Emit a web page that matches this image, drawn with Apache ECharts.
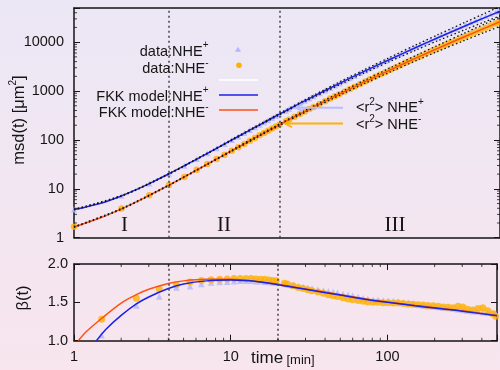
<!DOCTYPE html>
<html><head><meta charset="utf-8">
<script src="https://cdn.jsdelivr.net/npm/echarts@6/dist/echarts.min.js"></script>
<style>html,body{margin:0;padding:0;}#c{width:500px;height:370px;background:linear-gradient(#ebe7f5,#f8e5ee);}</style>
</head><body><div id="c"></div>
<script>
// ---- data ----
const tData = [1,2,3,4,5,6,7,8,9,10,11,12,13,14,15,16,17,18,19,20,22,23,25,27,29,31,33,36,39,42,45,48,52,56,60,65,70,75,81,87,94,101,109,117,126,136,146,157,169,182,196,211,227,244,262,282,303,326,351,378,406,437,470,490];
const msdPlus = [3.76,7.2,12.8,20.3,29.6,40.6,53.2,67.4,83,100,118,138,159,181,204,229,254,281,308,336,396,428,492,560,631,705,781,902,1026,1156,1292,1429,1622,1824,2032,2340,2630,2920,3290,3650,4110,4670,5220,5810,6490,7260,8050,8950,9950,11090,12310,13910,15420,17070,18870,20870,23020,25470,28240,31230,34380,38000,41890,44260];
const msdMinus = [1.68,3.95,7.4,12.0,17.5,24.5,32,40.5,50,60,71,83,96,110,124,139,155,171,188,205,240,259,298,339,382,427,473,546,621,700,782,865,982,1104,1230,1390,1560,1734,1950,2168,2438,2716,3041,3381,3776,4227,4688,5212,5794,6457,7178,7980,8851,9795,10840,11990,13240,14660,16260,17990,19820,21930,24210,25590];

const tModel = [1,1.5,2,2.5,3,4,5,6,7,8,10,12,15,20,30,50,70,100,150,200,300,400,500];
const modelMsdPlus = [3.76,5.15,7.18,9.73,12.8,20.3,29.6,40.6,53.2,67.4,100,138,204,336,668,1528,2578,4426,8054,12160,21430,31770,42950];
const modelMsdMinus = [1.65,2.62,3.89,5.47,7.35,11.9,17.6,24.3,31.9,40.5,60.3,83.4,124,204,405,925,1560,2680,4875,7380,13030,19360,26300];

const tBand = [1,2,4,7,10,15,20,30,50,70,100,150,200,300,400,500];
const bandPlusUpper = [3.84,7.32,20.7,54.3,103,210,349,701,1635,2784,4869,9101,13980,25500,38760,53690];
const bandPlusLower = [3.69,7.04,19.9,52.2,97.1,198,323,636,1428,2387,4024,7127,10570,18010,26040,34360];
const bandMinusUpper = [1.68,3.97,12.1,32.5,62.1,128,212,425,990,1685,2948,5509,8487,15510,23620,32880];
const bandMinusLower = [1.62,3.81,11.7,31.3,58.5,120,196,386,864,1444,2436,4314,6417,10950,15870,21040];

const tBeta = [1.5,2.5,3.5,4.5,5.5,6.5,7.5,8.5,9.5,10.5,11.5,12.5,13.5,14.5,15.5,16.5,17.5,18.5,19.5,22,23,25,27,29,31,33,36,39,42,45,48,52,56,60,65,70,75,81,87,94,101,109,117,126,136,146,157,169,182,196,211,227,244,262,282,303,326,351,378,406,437,470,490];
const betaPlus = [1.07,1.46,1.575,1.695,1.71,1.74,1.76,1.765,1.77,1.775,1.78,1.78,1.78,1.775,1.775,1.77,1.765,1.76,1.755,1.74,1.735,1.72,1.71,1.70,1.69,1.68,1.665,1.655,1.645,1.635,1.625,1.61,1.60,1.585,1.57,1.555,1.545,1.535,1.53,1.525,1.52,1.515,1.51,1.50,1.49,1.48,1.47,1.46,1.45,1.445,1.44,1.43,1.425,1.42,1.41,1.40,1.39,1.385,1.38,1.37,1.365,1.36,1.355];
const betaMinus = [1.28,1.555,1.675,1.73,1.765,1.785,1.795,1.80,1.805,1.81,1.81,1.81,1.81,1.805,1.80,1.80,1.79,1.785,1.78,1.75,1.74,1.715,1.695,1.68,1.665,1.65,1.635,1.62,1.60,1.585,1.575,1.56,1.545,1.535,1.525,1.515,1.505,1.50,1.50,1.495,1.495,1.49,1.49,1.485,1.48,1.475,1.47,1.465,1.46,1.455,1.45,1.44,1.435,1.43,1.45,1.44,1.41,1.40,1.42,1.43,1.39,1.35,1.32];

const tModelBetaMinus = [1.065,1.2,1.5,2,2.5,3,4,5,7,10,15,20,30,50,70,100,150,200,300,500];
const modelBetaMinus = [1.0,1.12,1.29,1.49,1.60,1.67,1.745,1.78,1.80,1.80,1.77,1.735,1.675,1.60,1.55,1.505,1.46,1.43,1.39,1.33];
const tModelBetaPlus = [1.39,1.6,2,2.5,3,4,5,7,10,15,20,30,50,70,100,150,200,300,500];
const modelBetaPlus = [1.0,1.15,1.33,1.48,1.57,1.68,1.74,1.78,1.79,1.77,1.73,1.67,1.595,1.545,1.50,1.455,1.425,1.385,1.325];

const regionBounds = [4, 20];
const regionLabels = ['I','II','III'];
const minorMsdTicks = [2,3,4,5,6,7,8,9,20,30,40,50,60,70,80,90,200,300,400,500,600,700,800,900,2000,3000,4000,5000,6000,7000,8000,9000,20000,30000,40000];
const minorTimeTicks = [2,3,4,5,6,7,8,9,20,30,40,50,60,70,80,90,200,300,400];

// ---- styling ----
const FONT = 'Liberation Sans, Arial, sans-serif';
const INK = '#151515';
const C_PLUS_DATA = '#b2b6ff', C_MINUS_DATA = '#ffb000';
const C_PLUS_MODEL = '#1c22e6', C_MINUS_MODEL = '#ff5012';
const zip = (xs, ys) => xs.map((x, i) => [x, ys[i]]);
const isDecade = v => Math.abs(Math.log10(v) - Math.round(Math.log10(v))) < 1e-6;
const logFmt = v => isDecade(v) ? String(Math.round(v)) : '';

const chart = echarts.init(document.getElementById('c'), null, {renderer: 'canvas'});
const axLine = {show: true, lineStyle: {color: INK, width: 1.5}};
const tick = {show: true, inside: true, length: 6, lineStyle: {color: INK, width: 1}};
const vMark = {silent: true, symbol: ['none','none'], label: {show: false},
  lineStyle: {type: [2, 3], color: '#444', width: 1.5}, data: regionBounds.map(v => ({xAxis: v}))};
const dotted = {type: [1.5, 2.5], color: '#111', width: 1.3};

function minorSeries(xi, yi, data, size, offset) {
  return {type: 'scatter', xAxisIndex: xi, yAxisIndex: yi, data, symbol: 'rect', symbolSize: size,
    symbolOffset: offset, itemStyle: {color: INK}, silent: true, clip: false, z: 10, animation: false};
}

const sup = {fontSize: 10, fontFamily: FONT, fill: INK, lineHeight: 10, verticalAlign: 'top'};
const main = (fs) => ({fontSize: fs, fontFamily: FONT, fill: INK, lineHeight: 22, verticalAlign: 'middle'});
function richText(x, y, text, align, fs, extra) {
  return Object.assign({type: 'text', x, y, silent: true, z: 100,
    style: {text, x: 0, y: 0, align, verticalAlign: 'middle', rich: {m: main(fs), s: sup}}}, extra || {});
}

const option = {
  animation: false,
  grid: [
    {left: 74, top: 8, width: 428, height: 229.7},
    {left: 74, top: 264, width: 428, height: 76.7}
  ],
  xAxis: [
    {gridIndex: 0, type: 'log', min: 1, max: 500, position: 'bottom', axisLine: axLine, axisTick: {show: false}, axisLabel: {show: false}, splitLine: {show: false}},
    {gridIndex: 0, type: 'log', min: 1, max: 500, position: 'top', axisLine: axLine, axisTick: {show: false}, axisLabel: {show: false}, splitLine: {show: false}},
    {gridIndex: 1, type: 'log', min: 1, max: 500, position: 'bottom', axisLine: axLine, axisTick: tick,
      axisLabel: {formatter: logFmt, fontFamily: FONT, fontSize: 14.5, color: INK, margin: 9}, splitLine: {show: false}},
    {gridIndex: 1, type: 'log', min: 1, max: 500, position: 'top', axisLine: axLine, axisTick: tick, axisLabel: {show: false}, splitLine: {show: false}}
  ],
  yAxis: [
    {gridIndex: 0, type: 'log', min: 1, max: 50000, position: 'left', axisLine: axLine, axisTick: tick,
      axisLabel: {formatter: logFmt, fontFamily: FONT, fontSize: 14.5, color: INK, margin: 10}, splitLine: {show: false}},
    {gridIndex: 0, type: 'log', min: 1, max: 50000, position: 'right', axisLine: axLine, axisTick: tick, axisLabel: {show: false}, splitLine: {show: false}},
    {gridIndex: 1, type: 'value', min: 1, max: 2, interval: 0.5, position: 'left', axisLine: axLine, axisTick: tick,
      axisLabel: {formatter: v => v.toFixed(1), fontFamily: FONT, fontSize: 14.5, color: INK, margin: 6}, splitLine: {show: false}},
    {gridIndex: 1, type: 'value', min: 1, max: 2, interval: 0.5, position: 'right', axisLine: axLine, axisTick: tick, axisLabel: {show: false}, splitLine: {show: false}}
  ],
  series: [
    // top panel
    {name: 'data:NHE+', type: 'scatter', xAxisIndex: 0, yAxisIndex: 0, data: zip(tData, msdPlus), symbol: 'triangle', symbolSize: 6,
      itemStyle: {color: C_PLUS_DATA}, z: 2, markLine: vMark},
    {name: 'data:NHE-', type: 'scatter', xAxisIndex: 0, yAxisIndex: 0, data: zip(tData, msdMinus), symbol: 'circle', symbolSize: 6.5,
      itemStyle: {color: C_MINUS_DATA}, z: 2},
    {name: 'FKK model:NHE+', type: 'line', xAxisIndex: 0, yAxisIndex: 0, data: zip(tModel, modelMsdPlus), smooth: 0.3, showSymbol: false,
      lineStyle: {color: C_PLUS_MODEL, width: 1.5}, z: 3},
    {name: 'FKK model:NHE-', type: 'line', xAxisIndex: 0, yAxisIndex: 0, data: zip(tModel, modelMsdMinus), smooth: 0.3, showSymbol: false,
      lineStyle: {color: C_MINUS_MODEL, width: 1.5}, z: 3},
    {type: 'line', xAxisIndex: 0, yAxisIndex: 0, data: zip(tBand, bandPlusUpper), smooth: 0.3, showSymbol: false, lineStyle: dotted, z: 4},
    {type: 'line', xAxisIndex: 0, yAxisIndex: 0, data: zip(tBand, bandPlusLower), smooth: 0.3, showSymbol: false, lineStyle: dotted, z: 4},
    {type: 'line', xAxisIndex: 0, yAxisIndex: 0, data: zip(tBand, bandMinusUpper), smooth: 0.3, showSymbol: false, lineStyle: dotted, z: 4},
    {type: 'line', xAxisIndex: 0, yAxisIndex: 0, data: zip(tBand, bandMinusLower), smooth: 0.3, showSymbol: false, lineStyle: dotted, z: 4},
    // bottom panel
    {type: 'scatter', xAxisIndex: 2, yAxisIndex: 2, data: zip(tBeta, betaPlus), symbol: 'triangle', symbolSize: 6.5,
      itemStyle: {color: C_PLUS_DATA}, z: 2, markLine: vMark},
    {type: 'scatter', xAxisIndex: 2, yAxisIndex: 2, data: zip(tBeta, betaMinus), symbol: 'circle', symbolSize: 7,
      itemStyle: {color: C_MINUS_DATA}, z: 2},
    {type: 'line', xAxisIndex: 2, yAxisIndex: 2, data: zip(tModelBetaMinus, modelBetaMinus), smooth: 0.3, showSymbol: false,
      lineStyle: {color: C_MINUS_MODEL, width: 1.5}, z: 3},
    {type: 'line', xAxisIndex: 2, yAxisIndex: 2, data: zip(tModelBetaPlus, modelBetaPlus), smooth: 0.3, showSymbol: false,
      lineStyle: {color: C_PLUS_MODEL, width: 1.5}, z: 3},
    // minor ticks
    minorSeries(0, 0, minorMsdTicks.map(v => [1, v]), [3, 1], [1.5, 0]),
    minorSeries(0, 0, minorMsdTicks.map(v => [500, v]), [3, 1], [-1.5, 0]),
    minorSeries(2, 2, minorTimeTicks.map(v => [v, 1]), [1, 3], [0, -1.5]),
    minorSeries(2, 2, minorTimeTicks.map(v => [v, 2]), [1, 3], [0, 1.5])
  ],
  graphic: [
    // legend
    richText(208.5, 51.7, '{m|data:NHE}{s|+}', 'right', 14.5),
    richText(208.5, 69, '{m|data:NHE}{s|-}', 'right', 14.5),
    richText(208.5, 96.7, '{m|FKK model:NHE}{s|+}', 'right', 14.5),
    richText(208.5, 113.3, '{m|FKK model:NHE}{s|-}', 'right', 14.5),
    {type: 'polygon', silent: true, z: 100, shape: {points: [[238, 46.8], [241, 51.8], [235, 51.8]]}, style: {fill: C_PLUS_DATA}},
    {type: 'circle', silent: true, z: 100, shape: {cx: 239, cy: 65.3, r: 2.8}, style: {fill: C_MINUS_DATA}},
    {type: 'line', silent: true, z: 100, shape: {x1: 219, y1: 80, x2: 258, y2: 80}, style: {stroke: '#ffffff', lineWidth: 1.5}},
    {type: 'line', silent: true, z: 100, shape: {x1: 219, y1: 95, x2: 258, y2: 95}, style: {stroke: C_PLUS_MODEL, lineWidth: 1.5}},
    {type: 'line', silent: true, z: 100, shape: {x1: 219, y1: 110, x2: 258, y2: 110}, style: {stroke: C_MINUS_MODEL, lineWidth: 1.5}},
    // arrows
    {type: 'line', silent: true, z: 100, shape: {x1: 343, y1: 107.7, x2: 296, y2: 107.7}, style: {stroke: '#b8bcff', lineWidth: 2}},
    {type: 'polyline', silent: true, z: 100, shape: {points: [[303, 103.7], [296, 107.7], [303, 111.7]]}, style: {stroke: '#b8bcff', lineWidth: 2, fill: null}},
    {type: 'line', silent: true, z: 100, shape: {x1: 343, y1: 123.5, x2: 285, y2: 123.5}, style: {stroke: '#ffb000', lineWidth: 1.8}},
    {type: 'polyline', silent: true, z: 100, shape: {points: [[292, 119.7], [285, 123.5], [292, 127.3]]}, style: {stroke: '#ffb000', lineWidth: 1.8, fill: null}},
    richText(356, 108.3, '{m|<r}{s|2}{m|> NHE}{s|+}', 'left', 14.5),
    richText(356, 125, '{m|<r}{s|2}{m|> NHE}{s|-}', 'left', 14.5),
    // region numerals
    {type: 'text', x: 124.5, y: 225.5, silent: true, z: 100, style: {text: regionLabels[0], x: 0, y: 0, align: 'center', verticalAlign: 'middle', font: '21px "Liberation Serif", "Times New Roman", serif', fill: INK}},
    {type: 'text', x: 224, y: 225.5, silent: true, z: 100, style: {text: regionLabels[1], x: 0, y: 0, align: 'center', verticalAlign: 'middle', font: '21px "Liberation Serif", "Times New Roman", serif', fill: INK}},
    {type: 'text', x: 395, y: 225, silent: true, z: 100, style: {text: regionLabels[2], x: 0, y: 0, align: 'center', verticalAlign: 'middle', font: '21px "Liberation Serif", "Times New Roman", serif', fill: INK}},
    // axis titles
    richText(19, 120, '{m|msd(t) [μm}{s|2}{m|]}', 'center', 16.5, {rotation: Math.PI / 2}),
    {type: 'text', x: 23, y: 298, rotation: Math.PI / 2, silent: true, z: 100, style: {text: 'β(t)', x: 0, y: 0, align: 'center', verticalAlign: 'middle', font: '16.5px ' + FONT, fill: INK}},
    {type: 'text', x: 251, y: 358, silent: true, z: 100, style: {text: '{a|time} {b|[min]}', x: 0, y: 0, align: 'left', verticalAlign: 'middle',
      rich: {a: {fontSize: 17, fontFamily: FONT, fill: INK}, b: {fontSize: 13, fontFamily: FONT, fill: INK, verticalAlign: 'bottom'}}}}
  ]
};
chart.setOption(option);
</script></body></html>
